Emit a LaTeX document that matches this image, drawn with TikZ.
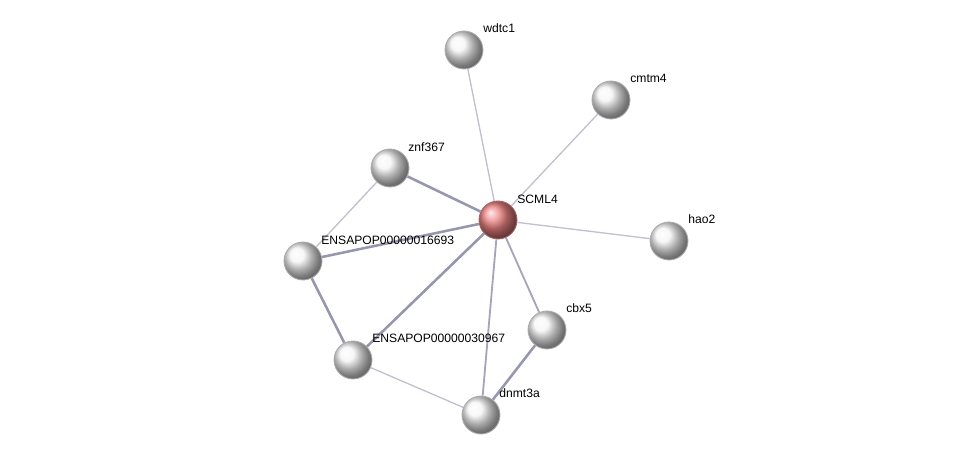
\documentclass[tikz,border=0pt]{standalone}
\usepackage{fontspec}
\setmainfont{Liberation Sans}
\definecolor{edgeweak}{RGB}{192,192,206}
\definecolor{edgemid}{RGB}{165,165,188}
\definecolor{edgestrong}{RGB}{150,150,174}
\definecolor{hubred}{RGB}{236,130,130}
\begin{document}
\begin{tikzpicture}[x=0.02cm, y=-0.02cm,
    prot/.style={circle, draw=gray!65, line width=0.5pt, minimum size=0.76cm, inner sep=0pt, shading=ball, ball color=gray!8},
    hub/.style={prot, draw=red!40!black!60, ball color=hubred},
    lab/.style={anchor=base west, inner sep=0pt, font=\fontsize{6.9}{7.5}\selectfont},
    weak/.style={draw=edgeweak, line width=0.75pt},
    mid/.style={draw=edgemid, line width=1.05pt},
    strong/.style={draw=edgestrong, line width=1.45pt}]
    \useasboundingbox (0,0) rectangle (976,460);
    % 蛋白质节点
    \node[hub] (scml4) at (498,220) {};
    \node[prot] (wdtc1) at (464,50) {};
    \node[prot] (cmtm4) at (611,100) {};
    \node[prot] (znf367) at (390,168) {};
    \node[prot] (hao2) at (669,241) {};
    \node[prot] (e16693) at (303,261) {};
    \node[prot] (cbx5) at (547,330) {};
    \node[prot] (e30967) at (353,360) {};
    \node[prot] (dnmt3a) at (481,415) {};
    % 相互作用
    \draw[weak] (scml4) -- (wdtc1);
    \draw[weak] (scml4) -- (cmtm4);
    \draw[weak] (scml4) -- (hao2);
    \draw[strong] (scml4) -- (znf367);
    \draw[strong] (scml4) -- (e16693);
    \draw[strong] (scml4) -- (e30967);
    \draw[mid] (scml4) -- (dnmt3a);
    \draw[mid] (scml4) -- (cbx5);
    \draw[weak] (znf367) -- (e16693);
    \draw[strong] (e16693) -- (e30967);
    \draw[weak] (e30967) -- (dnmt3a);
    \draw[strong] (cbx5) -- (dnmt3a);
    % 标签
    \node[lab] (scml4-l) at (517,203) {SCML4};
    \node[lab] (wdtc1-l) at (483,32) {wdtc1};
    \node[lab] (cmtm4-l) at (630,82) {cmtm4};
    \node[lab] (znf367-l) at (408,151) {znf367};
    \node[lab] (hao2-l) at (688,223) {hao2};
    \node[lab] (e16693-l) at (321,244) {ENSAPOP00000016693};
    \node[lab] (cbx5-l) at (566,312) {cbx5};
    \node[lab] (e30967-l) at (372,342) {ENSAPOP00000030967};
    \node[lab] (dnmt3a-l) at (499,397) {dnmt3a};
\end{tikzpicture}
\end{document}
